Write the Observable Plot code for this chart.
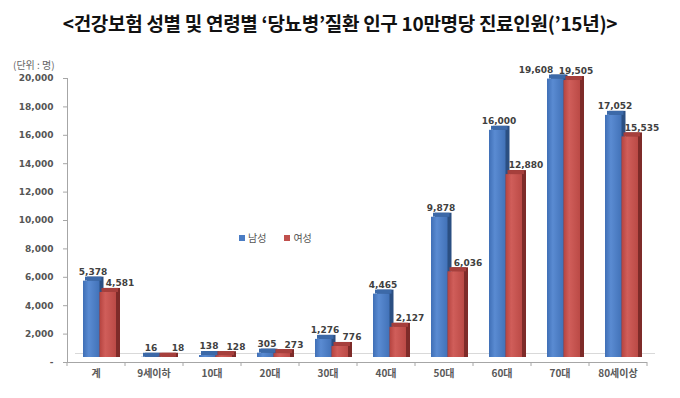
<!DOCTYPE html>
<html>
<head>
<meta charset="utf-8">
<script src="https://cdn.jsdelivr.net/npm/d3@7"></script>
<script src="https://cdn.jsdelivr.net/npm/@observablehq/plot@0.6"></script>
<style>
  html, body { margin: 0; padding: 0; background: #fff; }
  #wrap { position: relative; width: 680px; height: 398px; background: #fff; overflow: hidden; }
  #chart { position: absolute; left: 0; top: 0; }
  #title { position: absolute; left: 0; top: 11px; width: 680px; text-align: center;
    font-family: "Noto Sans CJK KR", sans-serif; font-weight: bold; font-size: 19px; line-height: 24px; color: #111;
    letter-spacing: -0.3px; }
  #unit { position: absolute; left: 13px; top: 58px; font-family: "Noto Sans CJK KR", sans-serif;
    font-size: 10px; line-height: 14px; color: #666; }
  #legend { position: absolute; left: 239px; top: 231px; font-family: "Noto Sans CJK KR", sans-serif;
    font-size: 10px; line-height: 14px; color: #555; display: flex; gap: 18px; }
  #legend span.sw { display: inline-block; width: 6px; height: 6px; margin-right: 3px; vertical-align: 1px; }
</style>
</head>
<body>
<div id="wrap">
  <div id="chart"></div>
  <div id="title">&lt;건강보험 성별 및 연령별 ‘당뇨병’질환 인구 10만명당 진료인원(’15년)&gt;</div>
  <div id="unit">(단위 : 명)</div>
  <div id="legend"></div>
</div>
<script>
const categories = ["계", "9세이하", "10대", "20대", "30대", "40대", "50대", "60대", "70대", "80세이상"];
const seriesNames = ["남성", "여성"];
const maleValues = [5378, 16, 138, 305, 1276, 4465, 9878, 16000, 19608, 17052];
const femaleValues = [4581, 18, 128, 273, 776, 2127, 6036, 12880, 19505, 15535];
const yTicks = [0, 2000, 4000, 6000, 8000, 10000, 12000, 14000, 16000, 18000, 20000];

const maleData = categories.map((c, i) => ({cat: c, sex: seriesNames[0], v: maleValues[i]}));
const femaleData = categories.map((c, i) => ({cat: c, sex: seriesNames[1], v: femaleValues[i]}));

const fmt = d3.format(",");
const half = 16.5;   // half of the category band (pair of bars)
const depth = 4;     // 3D depth offset

const labelStyle = {fill: "#404040", fontSize: 9, fontWeight: "bold", fontFamily: "DejaVu Sans"};

function bar3d(data, insets, sideColor, topColor, frontFill) {
  return [
    Plot.barY(data, {x: "cat", y: "v", fill: sideColor, dx: depth, dy: -depth, insetBottom: -depth, ...insets}),
    Plot.barY(data, {x: "cat", y1: "v", y2: "v", fill: topColor, dx: depth / 2, insetTop: -depth, ...insets}),
    Plot.barY(data, {x: "cat", y: "v", fill: frontFill, ...insets})
  ];
}

const chart = Plot.plot({
  width: 680,
  height: 398,
  marginTop: 73,
  marginBottom: 41,
  marginLeft: 71,
  marginRight: 29,
  style: {fontFamily: "DejaVu Sans", color: "#999", background: "transparent"},
  x: {domain: categories, paddingInner: 0.431, paddingOuter: 0.2155},
  y: {domain: [0, 20000], label: null},
  marks: [
    // back edge of floor
    Plot.ruleY([0], {dx: depth, dy: -depth, stroke: "#d9d9d9"}),
    // bars
    ...bar3d(maleData, {insetRight: half}, "#2b4f82", "#3c69a8", "url(#gradBlue)"),
    ...bar3d(femaleData, {insetLeft: half}, "#7e2b29", "#a63f3c", "url(#gradRed)"),
    // front floor line and y axis line
    Plot.ruleY([0], {dx: -depth, dy: depth + 1, stroke: "#a6a6a6"}),
    Plot.frame({anchor: "left", dx: -depth, dy: depth + 1, stroke: "#a6a6a6"}),
    // y axis
    Plot.axisY({ticks: yTicks, tickFormat: d => d === 0 ? "-" : fmt(d), tickSize: 4, tickPadding: 10,
      dx: -depth, dy: depth + 1, stroke: "#a6a6a6", fill: "#555", fontSize: 9, fontWeight: "bold", label: null}),
    // x boundary ticks
    Plot.axisX({tickSize: 4, tickFormat: () => "", dx: -29 - depth, dy: depth + 1, stroke: "#a6a6a6", label: null}),
    Plot.axisX({ticks: [categories[categories.length - 1]], tickSize: 4, tickFormat: () => "", dx: 29 - depth, dy: depth + 1, stroke: "#a6a6a6", label: null}),
    // x labels
    Plot.axisX({tickSize: 0, tickPadding: 12, dx: -depth, fill: "#595959", fontSize: 10, fontWeight: "bold",
      fontFamily: "Noto Sans CJK KR", label: null}),
    // value labels
    Plot.text(maleData.filter(d => d.cat !== "70대"), {x: "cat", y: "v", text: d => fmt(d.v), dx: -7, dy: -9, ...labelStyle}),
    Plot.text(maleData.filter(d => d.cat === "70대"), {x: "cat", y: "v", text: d => fmt(d.v), dx: -28, dy: -9, ...labelStyle}),
    Plot.text(femaleData.filter(d => d.cat !== "70대"), {x: "cat", y: "v", text: d => fmt(d.v), dx: 20, dy: -9, ...labelStyle}),
    Plot.text(femaleData.filter(d => d.cat === "70대"), {x: "cat", y: "v", text: d => fmt(d.v), dx: 12, dy: -9, ...labelStyle})
  ]
});

const defs = document.createElementNS("http://www.w3.org/2000/svg", "defs");
defs.innerHTML = `
  <linearGradient id="gradBlue" x1="0" y1="0" x2="1" y2="0">
    <stop offset="0" stop-color="#3f6fb6"/>
    <stop offset="0.35" stop-color="#5a8bd2"/>
    <stop offset="1" stop-color="#4272b8"/>
  </linearGradient>
  <linearGradient id="gradRed" x1="0" y1="0" x2="1" y2="0">
    <stop offset="0" stop-color="#b5433f"/>
    <stop offset="0.35" stop-color="#d05e5a"/>
    <stop offset="1" stop-color="#bb4a46"/>
  </linearGradient>`;
chart.insertBefore(defs, chart.firstChild);
document.getElementById("chart").appendChild(chart);

const legendColors = ["#4a7cc4", "#c0504d"];
const legend = document.getElementById("legend");
seriesNames.forEach((name, i) => {
  const item = document.createElement("div");
  const sw = document.createElement("span");
  sw.className = "sw";
  sw.style.background = legendColors[i];
  item.appendChild(sw);
  item.appendChild(document.createTextNode(name));
  legend.appendChild(item);
});
</script>
</body>
</html>
